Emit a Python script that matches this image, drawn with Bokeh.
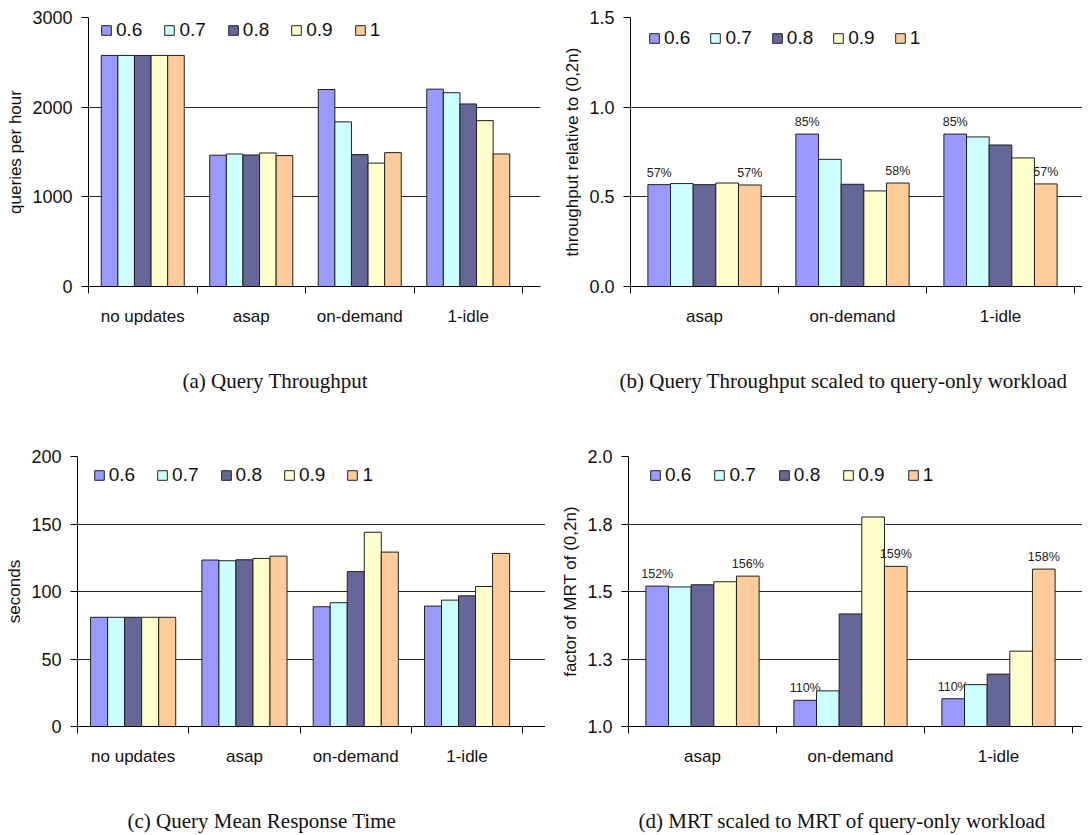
import numpy as np
from bokeh.plotting import figure
from bokeh.models import Range1d, FixedTicker, Legend, LegendItem
from bokeh.layouts import column, row
from bokeh.embed import file_html
from bokeh.resources import INLINE

# ---------------- data ----------------
series = ["0.6", "0.7", "0.8", "0.9", "1"]
colors = ["#9999FF", "#CCFFFF", "#666699", "#FFFFCC", "#FFCC99"]

cats4 = ["no updates", "asap", "on-demand", "1-idle"]
cats3 = ["asap", "on-demand", "1-idle"]

# (a) Query Throughput (queries per hour)
thr_06 = [2577, 1464, 2197, 2201]
thr_07 = [2577, 1478, 1836, 2161]
thr_08 = [2577, 1467, 1471, 2036]
thr_09 = [2577, 1489, 1376, 1850]
thr_10 = [2577, 1460, 1493, 1478]

# (b) Throughput relative to (0,2n)
rel_06 = [0.568, 0.850, 0.850]
rel_07 = [0.574, 0.709, 0.834]
rel_08 = [0.568, 0.570, 0.789]
rel_09 = [0.577, 0.533, 0.717]
rel_10 = [0.566, 0.577, 0.572]

# (c) Query Mean Response Time (seconds)
mrt_06 = [80.9, 123.3, 88.7, 89.2]
mrt_07 = [80.9, 122.8, 91.7, 93.6]
mrt_08 = [80.9, 123.5, 114.7, 96.8]
mrt_09 = [80.9, 124.5, 143.9, 103.7]
mrt_10 = [80.9, 126.2, 129.2, 128.2]

# (d) factor of MRT of (0,2n)
fac_06 = [1.520, 1.097, 1.103]
fac_07 = [1.517, 1.132, 1.155]
fac_08 = [1.525, 1.417, 1.194]
fac_09 = [1.536, 1.776, 1.279]
fac_10 = [1.557, 1.593, 1.583]

a_ticks = [0, 1000, 2000, 3000]
a_tick_labels = ["0", "1000", "2000", "3000"]
b_ticks = [0.0, 0.5, 1.0, 1.5]
b_tick_labels = ["0.0", "0.5", "1.0", "1.5"]
c_ticks = [0, 50, 100, 150, 200]
c_tick_labels = ["0", "50", "100", "150", "200"]
d_ticks = [1.0, 1.25, 1.5, 1.75, 2.0]
d_tick_labels = ["1.0", "1.3", "1.5", "1.8", "2.0"]

# series indices that carry a percentage label in (b) and (d)
annotated_series = [0, 4]

SANS = "Liberation Sans"
SERIF = "Liberation Serif"


def make_panel(cats, vals, y0, y1, ticks, tick_labels, ylabel, caption,
               width, height, bl, br, bt, bb, xend, legend_off, legend_spacing,
               caption_offset, caption_gap, annotate=False, ylabel_standoff=4):
    p = figure(width=width, height=height, output_backend="svg",
               toolbar_location=None, x_range=Range1d(0, xend),
               y_range=Range1d(y0, y1), min_border_left=bl,
               min_border_right=br, min_border_top=bt, min_border_bottom=bb,
               title=caption, title_location="below")
    p.outline_line_color = None
    p.background_fill_color = "white"
    p.border_fill_color = "white"

    # caption (as title below the chart)
    p.title.align = "left"
    p.title.offset = caption_offset
    p.title.standoff = 0
    p.title.text_font = SERIF
    p.title.text_font_size = "21px"
    p.title.text_font_style = "normal"
    p.title.text_color = "#111111"

    n = len(cats)
    centers = np.arange(n) + 0.5
    bw = 0.153
    renderers = []
    for j, (name, v) in enumerate(zip(series, vals)):
        xs = centers + (j - 2) * bw
        r = p.vbar(x=xs, top=v, bottom=y0, width=bw, fill_color=colors[j],
                   line_color="#202020", line_width=1)
        renderers.append(r)
        if annotate and j in annotated_series:
            txt = ["%d%%" % round(t * 100) for t in v]
            p.text(x=xs, y=v, text=txt, text_align="center",
                   text_baseline="bottom", y_offset=-5,
                   text_font_size="12.5px", text_color="#222222",
                   text_font={"value": SANS})

    # axes
    xa = p.xaxis[0]
    xa.ticker = FixedTicker(ticks=list(centers), minor_ticks=list(range(n + 1)))
    xa.major_label_overrides = {float(c): lab for c, lab in zip(centers, cats)}
    xa.major_tick_out = 0
    xa.major_tick_in = 0
    xa.minor_tick_out = 7
    xa.minor_tick_in = 0
    xa.minor_tick_line_color = "#000000"
    xa.axis_line_color = "#000000"
    xa.major_label_text_font = SANS
    xa.major_label_text_font_size = "17px"
    xa.major_label_text_color = "#111111"
    xa.major_label_standoff = 13
    # blank axis label only reserves the gap between tick labels and caption
    xa.axis_label = " "
    xa.axis_label_text_font_size = "10px"
    xa.axis_label_standoff = caption_gap

    ya = p.yaxis[0]
    ya.ticker = FixedTicker(ticks=ticks, minor_ticks=[])
    ya.major_label_overrides = {float(t): lab for t, lab in zip(ticks, tick_labels)}
    ya.major_tick_out = 7
    ya.major_tick_in = 0
    ya.axis_line_color = "#000000"
    ya.major_tick_line_color = "#000000"
    ya.major_label_text_font = SANS
    ya.major_label_text_font_size = "18px"
    ya.major_label_text_color = "#111111"
    ya.major_label_standoff = 9
    ya.axis_label = ylabel
    ya.axis_label_text_font = SANS
    ya.axis_label_text_font_size = "17px"
    ya.axis_label_text_font_style = "normal"
    ya.axis_label_text_color = "#111111"
    ya.axis_label_standoff = ylabel_standoff

    p.xgrid.visible = False
    p.ygrid.ticker = FixedTicker(ticks=ticks)
    p.ygrid.grid_line_color = "#000000"
    p.ygrid.grid_line_alpha = 0.85

    # legend
    items = [LegendItem(label=s, renderers=[r]) for s, r in zip(series, renderers)]
    frame_h = height - bt - bb
    lx, ltop = legend_off
    leg_h = 22
    legend = Legend(items=items, orientation="horizontal",
                    location=(lx, frame_h - ltop - leg_h),
                    glyph_width=12, glyph_height=12, label_standoff=4,
                    spacing=legend_spacing, padding=0, margin=0,
                    label_text_font=SANS, label_text_font_size="19px",
                    label_text_color="#111111", border_line_color=None,
                    background_fill_alpha=0)
    p.add_layout(legend, "center")
    return p


pa = make_panel(cats4, [thr_06, thr_07, thr_08, thr_09, thr_10], 0, 3000,
                a_ticks, a_tick_labels, "queries per hour", "(a) Query Throughput",
                545, 417, 88, 5, 12, 130, 452 / 108.5, (12, 8), 21, 94, 24)

pb = make_panel(cats3, [rel_06, rel_07, rel_08, rel_09, rel_10], 0, 1.5,
                b_ticks, b_tick_labels, "throughput relative to (0,2n)",
                "(b) Query Throughput scaled to query-only workload",
                537, 417, 85, 0, 17, 131, 452 / 148.0, (18, 9.5), 19, -11, 24,
                annotate=True)

pc = make_panel(cats4, [mrt_06, mrt_07, mrt_08, mrt_09, mrt_10], 0, 200,
                c_ticks, c_tick_labels, "seconds", "(c) Query Mean Response Time",
                545, 417, 77, 0, 37, 108, 468 / 111.3, (15.7, 10), 21, 50, 24)

pd_ = make_panel(cats3, [fac_06, fac_07, fac_08, fac_09, fac_10], 1.0, 2.0,
                 d_ticks, d_tick_labels, "factor of MRT of (0,2n)",
                 "(d) MRT scaled to MRT of query-only workload",
                 537, 417, 83, 0, 39, 108, 454 / 148.0, (21, 8), 22, 10, 24,
                 annotate=True)

layout = column(row(pa, pb), row(pc, pd_))
open("out.html", "w").write(file_html(layout, INLINE))
